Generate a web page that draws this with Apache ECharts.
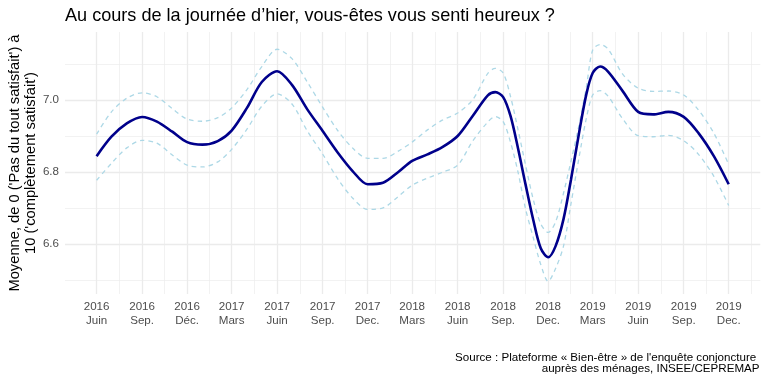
<!DOCTYPE html>
<html><head><meta charset="utf-8">
<script src="https://cdn.jsdelivr.net/npm/echarts@6/dist/echarts.min.js"></script>
<style>html,body{margin:0;padding:0;background:#fff}#c{width:768px;height:384px}</style>
</head><body><div id="c"></div>
<script>
// ---- data ----
const dates = [
 '2016-06-01','2016-07-01','2016-08-01','2016-09-01','2016-10-01','2016-11-01','2016-12-01',
 '2017-01-01','2017-02-01','2017-03-01','2017-04-01','2017-05-01','2017-06-01','2017-07-01','2017-08-01','2017-09-01','2017-10-01','2017-11-01','2017-12-01',
 '2018-01-01','2018-02-01','2018-03-01','2018-04-01','2018-05-01','2018-06-01','2018-07-01',
 '2018-08-01','2018-08-16','2018-09-01','2018-09-16','2018-10-01','2018-10-16','2018-11-01','2018-11-16','2018-12-01','2018-12-16',
 '2019-01-01','2019-01-16','2019-02-01','2019-02-16','2019-03-01','2019-03-16',
 '2019-04-01','2019-05-01','2019-06-01','2019-07-01','2019-08-01','2019-09-01','2019-10-01','2019-11-01','2019-12-01'
];
const meanValues = [
 6.844,6.898,6.935,6.953,6.940,6.912,6.883,
 6.876,6.886,6.915,6.978,7.050,7.080,7.042,6.974,6.914,6.855,6.802,6.766,
 6.770,6.800,6.831,6.849,6.869,6.900,6.955,
 7.013,7.022,7.008,6.955,6.866,6.767,6.666,6.588,6.563,6.594,
 6.669,6.778,6.905,7.015,7.075,7.093,
 7.079,7.024,6.967,6.960,6.967,6.953,6.908,6.844,6.766
];
const upperValues = [
 6.905,6.967,7.005,7.020,7.009,6.976,6.947,
 6.941,6.951,6.978,7.029,7.093,7.141,7.115,7.050,6.980,6.916,6.866,6.838,
 6.838,6.858,6.883,6.917,6.944,6.964,7.000,
 7.074,7.088,7.075,7.009,6.918,6.821,6.723,6.656,6.632,6.661,
 6.741,6.829,6.928,7.034,7.139,7.154,
 7.142,7.071,7.033,7.024,7.025,7.014,6.972,6.908,6.821
];
const lowerValues = [
 6.777,6.824,6.867,6.888,6.880,6.847,6.819,
 6.814,6.828,6.863,6.919,6.983,7.017,6.989,6.914,6.850,6.782,6.727,6.696,
 6.700,6.732,6.763,6.783,6.799,6.819,6.885,
 6.939,6.954,6.940,6.882,6.800,6.699,6.617,6.543,6.496,6.532,
 6.594,6.711,6.837,6.948,7.014,7.026,
 7.011,6.947,6.901,6.898,6.902,6.887,6.849,6.788,6.707
];
const tickDates = ['2016-06-01','2016-09-01','2016-12-01','2017-03-01','2017-06-01','2017-09-01','2017-12-01',
 '2018-03-01','2018-06-01','2018-09-01','2018-12-01','2019-03-01','2019-06-01','2019-09-01','2019-12-01'];
const tickLabels = ['2016\nJuin','2016\nSep.','2016\nDéc.','2017\nMars','2017\nJuin','2017\nSep.','2017\nDec.',
 '2018\nMars','2018\nJuin','2018\nSep.','2018\nDec.','2019\nMars','2019\nJuin','2019\nSep.','2019\nDec.'];
const yTicks = [6.6, 6.8, 7.0];
const yMinorTicks = [6.5, 6.7, 6.9, 7.1];
const titleText = 'Au cours de la journée d\u2019hier, vous-êtes vous senti heureux ?';
const yTitleLines = ["Moyenne, de 0 ('Pas du tout satisfait') à", "10 ('complètement satisfait')"];
const captionLines = ['Source : Plateforme « Bien-être » de l\'enquête conjoncture ', 'auprès des ménages, INSEE/CEPREMAP'];

// ---- helpers: dates -> day numbers (value axis) ----
function day(s){const p=s.split('-').map(Number);return Date.UTC(p[0],p[1]-1,p[2])/86400000;}
const xs = dates.map(day);
const t0 = xs[0], t1 = xs[xs.length-1];
const xMin = t0 - 0.05*(t1-t0), xMax = t1 + 0.05*(t1-t0);
const tickX = tickDates.map(day);
const minorX = [];
for (let i=0;i<tickX.length-1;i++) minorX.push((tickX[i]+tickX[i+1])/2);
minorX.push((tickX[tickX.length-1]+day('2020-03-01'))/2);

const FONT = 'Liberation Sans, Arial, sans-serif';
const chart = echarts.init(document.getElementById('c'), null, {renderer:'canvas'});
const pair = arr => xs.map((x,i)=>[x,arr[i]]);
const gridMark = [];
minorX.forEach(v=>gridMark.push({xAxis:v, lineStyle:{width:0.7,color:'#EDEDED',type:'solid'}}));
yMinorTicks.forEach(v=>gridMark.push({yAxis:v, lineStyle:{width:0.7,color:'#EDEDED',type:'solid'}}));
tickX.forEach(v=>gridMark.push({xAxis:v, lineStyle:{width:1.3,color:'#EBEBEB',type:'solid'}}));
yTicks.forEach(v=>gridMark.push({yAxis:v, lineStyle:{width:1.3,color:'#EBEBEB',type:'solid'}}));

chart.setOption({
  animation:false,
  backgroundColor:'#ffffff',
  grid:{left:65, right:7.7, top:32, bottom:90},
  xAxis:{type:'value', min:xMin, max:xMax,
    axisLine:{show:false}, axisTick:{show:false}, splitLine:{show:false},
    axisLabel:{customValues:tickX, margin:6.5, color:'#4D4D4D', fontSize:11.6, fontFamily:FONT, lineHeight:13.3,
      align:'center',
      formatter:function(v){let best=0,bd=Infinity;tickX.forEach((t,i)=>{const d=Math.abs(t-v);if(d<bd){bd=d;best=i;}});return tickLabels[best];}}
  },
  yAxis:{type:'value', min:6.461, max:7.189,
    axisLine:{show:false}, axisTick:{show:false}, splitLine:{show:false},
    axisLabel:{customValues:yTicks, margin:6, color:'#4D4D4D', fontSize:11.6, fontFamily:FONT,
      formatter:v=>Number(v).toFixed(1)}
  },
  graphic:[
    {type:'text', x:65, y:15.5, style:{text:titleText, font:'18.1px '+FONT, fill:'#000', textAlign:'left', textVerticalAlign:'middle'}},
    {type:'text', x:14.5, y:163, rotation:Math.PI/2, style:{text:yTitleLines[0], font:'14.7px '+FONT, fill:'#000', textAlign:'center', textVerticalAlign:'middle'}},
    {type:'text', x:31, y:163, rotation:Math.PI/2, style:{text:yTitleLines[1], font:'14.7px '+FONT, fill:'#000', textAlign:'center', textVerticalAlign:'middle'}},
    {type:'text', x:759.5, y:357.5, style:{text:captionLines[0], font:'11.6px '+FONT, fill:'#000', textAlign:'right', textVerticalAlign:'middle'}},
    {type:'text', x:759.5, y:369.2, style:{text:captionLines[1], font:'11.6px '+FONT, fill:'#000', textAlign:'right', textVerticalAlign:'middle'}}
  ],
  series:[
    {name:'grid', type:'line', data:pair(meanValues), symbol:'none', lineStyle:{opacity:0}, z:1, silent:true,
      markLine:{silent:true, symbol:['none','none'], z:1, label:{show:false}, emphasis:{disabled:true}, animation:false, data:gridMark}},
    {name:'upper', type:'line', data:pair(upperValues), symbol:'none', smooth:0.3, z:3,
      lineStyle:{color:'#ADD8E6', width:1.3, type:[4.5,4]}},
    {name:'lower', type:'line', data:pair(lowerValues), symbol:'none', smooth:0.3, z:3,
      lineStyle:{color:'#ADD8E6', width:1.3, type:[4.5,4]}},
    {name:'mean', type:'line', data:pair(meanValues), symbol:'none', smooth:0.3, z:4,
      lineStyle:{color:'#00008B', width:2.6}}
  ]
});
</script>
</body></html>
